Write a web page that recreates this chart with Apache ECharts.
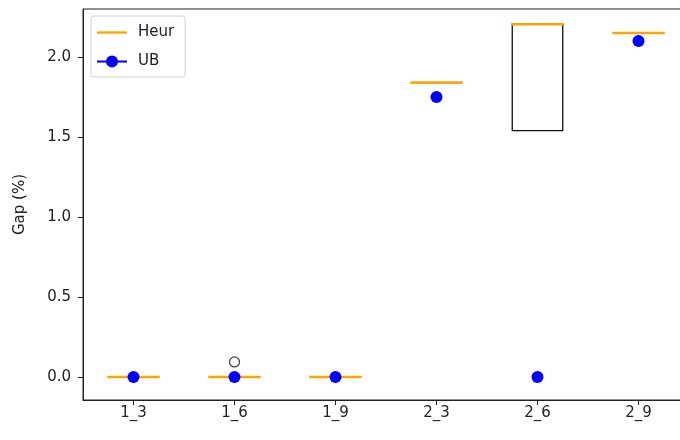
<!DOCTYPE html>
<html>
<head>
<meta charset="utf-8">
<script src="https://cdn.jsdelivr.net/npm/echarts@6/dist/echarts.min.js"></script>
<style>
    html, body { margin: 0; padding: 0; background: #fff; overflow: hidden; }
    /* the figure is cropped on the right in the reference, so the canvas is a bit wider than the window */
    #chart { width: 700px; height: 440px; }
</style>
</head>
<body>
<div id="chart"></div>
<script>
// categories on the x axis
const categories = ['1_3', '1_6', '1_9', '2_3', '2_6', '2_9'];

// Heur box statistics (min, q1, median, q3, max)
const heurMin = [0, 0, 0, 1.84, 1.54, 2.15];
const heurQ1 = [0, 0, 0, 1.84, 1.54, 2.15];
const heurMedian = [0, 0, 0, 1.84, 2.205, 2.15];
const heurQ3 = [0, 0, 0, 1.84, 2.205, 2.15];
const heurMax = [0, 0, 0, 1.84, 2.205, 2.15];

// fliers: [category index, value]
const heurOutliers = [[1, 0.094]];

// UB values
const ubValues = [0, 0, 0, 1.75, 0, 2.1];

// y tick labels
const yTicks = [0, 0.5, 1.0, 1.5, 2.0];

const chart = echarts.init(document.getElementById('chart'));

const boxData = categories.map((c, i) => [heurMin[i], heurQ1[i], heurMedian[i], heurQ3[i], heurMax[i]]);

const option = {
    animation: false,
    textStyle: { fontFamily: 'DejaVu Sans' },
    grid: {
        left: 83,
        top: 9,
        width: 606,
        bottom: 40,
        show: true,
        borderColor: '#222',
        borderWidth: 1,
        backgroundColor: 'transparent'
    },
    legend: {
        orient: 'vertical',
        left: 91,
        top: 16,
        padding: [9, 11, 8, 5],
        itemGap: 14,
        itemWidth: 30,
        itemHeight: 15,
        backgroundColor: '#fff',
        borderColor: '#d0d0d0',
        borderWidth: 1,
        borderRadius: 3,
        textStyle: { fontSize: 15, color: '#222', fontFamily: 'DejaVu Sans', padding: [0, 0, 0, 6] },
        lineStyle: { opacity: 1, width: 2 },
        data: [
            { name: 'Heur', icon: 'path://M0,0 L30,0 L30,2.4 L0,2.4 Z', itemStyle: { color: '#ffa500' } },
            { name: 'UB' }
        ]
    },
    xAxis: {
        type: 'category',
        data: categories,
        boundaryGap: true,
        axisLine: { show: true, onZero: false, lineStyle: { color: '#222', width: 1 } },
        axisTick: { show: true, alignWithLabel: true, length: 5, lineStyle: { color: '#222' } },
        axisLabel: { color: '#222', fontSize: 15, margin: 6, interval: 0 },
        splitLine: { show: false }
    },
    yAxis: {
        type: 'value',
        min: -0.144,
        max: 2.3,
        name: 'Gap (%)',
        nameLocation: 'middle',
        nameGap: 55,
        nameTextStyle: { color: '#222', fontSize: 15 },
        axisLine: { show: true, lineStyle: { color: '#222', width: 1 } },
        axisTick: { show: true, length: 5, customValues: yTicks, lineStyle: { color: '#222' } },
        axisLabel: {
            color: '#222',
            fontSize: 15,
            margin: 12,
            customValues: yTicks,
            formatter: (v) => v.toFixed(1)
        },
        splitLine: { show: false }
    },
    series: [
        {
            name: 'box',
            type: 'boxplot',
            data: boxData,
            boxWidth: ['50%', '50%'],
            itemStyle: { color: '#fff', borderColor: '#111', borderWidth: 1.3 },
            emphasis: { disabled: true },
            z: 2
        },
        {
            name: 'flier',
            type: 'scatter',
            data: heurOutliers,
            symbol: 'circle',
            symbolSize: 10,
            itemStyle: { color: 'transparent', borderColor: '#111', borderWidth: 1.3 },
            z: 3
        },
        {
            name: 'Heur',
            type: 'custom',
            data: heurMedian.map((v, i) => [i, v]),
            renderItem: (params, api) => {
                const c = api.coord([api.value(0), api.value(1)]);
                const half = api.size([1, 0])[0] * 0.25 + 1;
                return {
                    type: 'line',
                    shape: { x1: c[0] - half, y1: c[1], x2: c[0] + half, y2: c[1] },
                    style: { stroke: '#ffa500', lineWidth: 2.5 }
                };
            },
            itemStyle: { color: '#ffa500' },
            z: 4
        },
        {
            name: 'UB',
            type: 'line',
            data: ubValues,
            symbol: 'circle',
            symbolSize: 12,
            showSymbol: true,
            color: '#0000ff',
            itemStyle: { color: '#0000ff' },
            lineStyle: { color: '#0000ff', opacity: 0, width: 2 },
            z: 5
        }
    ]
};

chart.setOption(option);
</script>
</body>
</html>
